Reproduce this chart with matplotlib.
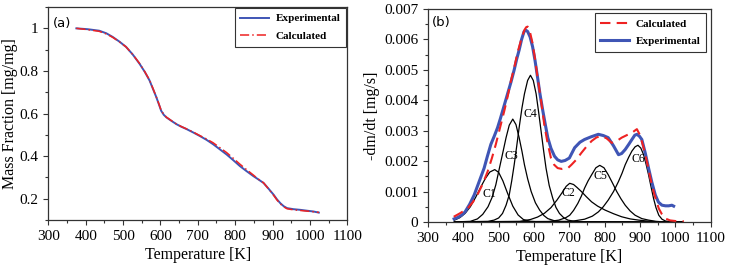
import matplotlib
matplotlib.use("Agg")
import matplotlib.pyplot as plt
from matplotlib.ticker import MultipleLocator, FixedLocator, FixedFormatter

plt.rcParams['font.family'] = ['Liberation Serif', 'DejaVu Serif']

# (a) mass fraction
t_mass = [375, 405, 436, 455, 472, 490, 508, 526, 544, 558, 571, 580, 589, 596, 602, 609,
          616, 630, 643, 656, 670, 688, 705, 723, 741, 759, 777, 795, 813, 831, 849, 862,
          876, 890, 903, 912, 921, 930, 939, 956, 974, 992, 1010, 1024]
mass_exp = [1.0, 0.996, 0.989, 0.977, 0.96, 0.938, 0.913, 0.877, 0.834, 0.796, 0.755, 0.716,
            0.677, 0.643, 0.613, 0.594, 0.582, 0.565, 0.55, 0.538, 0.527, 0.511, 0.495,
            0.477, 0.456, 0.432, 0.408, 0.381, 0.353, 0.329, 0.306, 0.291, 0.274, 0.246,
            0.219, 0.197, 0.179, 0.165, 0.156, 0.151, 0.148, 0.144, 0.140, 0.135]
mass_calc = [1.0, 0.994, 0.986, 0.974, 0.958, 0.937, 0.913, 0.877, 0.836, 0.797, 0.757,
             0.718, 0.678, 0.645, 0.615, 0.596, 0.583, 0.566, 0.551, 0.539, 0.528, 0.513,
             0.497, 0.481, 0.463, 0.440, 0.417, 0.390, 0.362, 0.336, 0.311, 0.292, 0.275,
             0.245, 0.216, 0.194, 0.176, 0.162, 0.153, 0.148, 0.145, 0.142, 0.139, 0.136]

# (b) mass loss rate
t_exp = [374, 385, 395, 405, 418, 431, 445, 459, 468, 478, 488, 497, 505, 515, 525, 535,
         544, 551, 558, 565, 572, 577, 582, 589, 596, 603, 610, 617, 625, 632, 639, 648,
         658, 667, 677, 688, 700, 715, 730, 743, 762, 782, 796, 810, 825, 839, 848, 858,
         868, 877, 885, 891, 898, 905, 915, 924, 933, 943, 952, 962, 972, 981, 990, 995]
rate_exp = [0.0001, 0.00015, 0.00022, 0.00033, 0.00058, 0.00089, 0.00133, 0.00177, 0.00215,
            0.00255, 0.00283, 0.0031, 0.0034, 0.0038, 0.0042, 0.0046, 0.005, 0.00535,
            0.00565, 0.006, 0.00626, 0.0063, 0.00626, 0.00608, 0.00576, 0.0053, 0.00476,
            0.0042, 0.00365, 0.0032, 0.00277, 0.00242, 0.00216, 0.00204, 0.00199, 0.00202,
            0.0021, 0.00244, 0.00262, 0.00271, 0.0028, 0.00288, 0.00284, 0.00277, 0.0025,
            0.00221, 0.00225, 0.00238, 0.00255, 0.00271, 0.00285, 0.00288, 0.00282, 0.00271,
            0.00225, 0.00177, 0.00132, 0.00089, 0.00065, 0.00055, 0.00053, 0.00053, 0.00055,
            0.00052]
t_calc = [373, 390, 412, 427, 440, 455, 469, 481, 492, 504, 516, 526, 535, 545, 554, 564,
          573, 578, 582, 589, 596, 603, 610, 620, 629, 638, 648, 657, 667, 680, 696, 706,
          720, 734, 748, 763, 777, 791, 805, 820, 834, 848, 862, 877, 885, 891, 900, 910,
          920, 929, 940, 953, 962, 972, 985, 1000, 1024]
rate_calc = [0.00017, 0.00028, 0.00044, 0.00065, 0.00089, 0.00125, 0.00166, 0.0021, 0.00255,
             0.0031, 0.00365, 0.00415, 0.00465, 0.00512, 0.00559, 0.006, 0.00631, 0.0064,
             0.00642, 0.00622, 0.00587, 0.00535, 0.00476, 0.00398, 0.00321, 0.00262, 0.0021,
             0.00188, 0.00177, 0.00174, 0.00177, 0.00188, 0.00205, 0.00227, 0.00247, 0.00266,
             0.00278, 0.00282, 0.00275, 0.0026, 0.00266, 0.00277, 0.00285, 0.00293, 0.003,
             0.00305, 0.00285, 0.00244, 0.00195, 0.00144, 0.00092, 0.00044, 0.00025, 0.00011,
             0.00005, 0.00003, 0.00002]

# deconvoluted components
comp_t = {
    'C1': [375, 390, 405, 420, 435, 450, 462, 475, 489, 500, 512, 525, 540, 555, 570, 590,
           620, 1020],
    'C2': [375, 560, 590, 610, 629, 648, 665, 680, 691, 701, 712, 722, 734, 748, 763, 780,
           801, 825, 848, 872, 896, 920, 943, 1020],
    'C3': [375, 420, 440, 455, 470, 482, 492, 500, 510, 521, 530, 540, 549, 558, 566, 573,
           582, 592, 604, 616, 628, 639, 660, 690, 1020],
    'C4': [375, 470, 487, 500, 511, 521, 530, 537, 544, 551, 558, 566, 573, 582, 590, 598,
           606, 613, 620, 627, 634, 643, 653, 662, 672, 684, 696, 720, 1020],
    'C5': [375, 640, 670, 690, 701, 712, 724, 734, 743, 753, 763, 775, 786, 798, 810, 822,
           834, 846, 858, 872, 886, 905, 924, 945, 970, 1020],
    'C6': [375, 706, 743, 765, 782, 796, 810, 825, 839, 849, 858, 868, 877, 886, 894, 902,
           910, 917, 924, 931, 938, 945, 953, 962, 972, 990, 1020],
}
comp_rate = {
    'C1': [0.00006, 0.00014, 0.00028, 0.0005, 0.00081, 0.00116, 0.00142, 0.00164, 0.00172,
           0.00163, 0.00135, 0.00095, 0.00052, 0.00023, 0.00008, 0.00002, 0.0, 0.0],
    'C2': [0.0, 0.00002, 0.00008, 0.00016, 0.00028, 0.00047, 0.00072, 0.00097, 0.00117,
           0.00127, 0.00123, 0.00113, 0.001, 0.00083, 0.00066, 0.00052, 0.00039, 0.00027,
           0.00017, 0.0001, 0.00006, 0.00003, 0.00001, 0.0],
    'C3': [0.0, 0.00002, 0.0001, 0.00025, 0.0005, 0.00082, 0.00122, 0.00165, 0.00218,
           0.00277, 0.00318, 0.00338, 0.0032, 0.00277, 0.00232, 0.00188, 0.00142, 0.001,
           0.00063, 0.00039, 0.00021, 0.00011, 0.00003, 0.0, 0.0],
    'C4': [0.0, 0.00002, 0.00006, 0.00013, 0.00028, 0.00055, 0.00089, 0.00135, 0.00188,
           0.00248, 0.0031, 0.00375, 0.00421, 0.00465, 0.00482, 0.00465, 0.00421, 0.00362,
           0.00299, 0.00236, 0.00177, 0.0012, 0.00078, 0.00048, 0.00028, 0.00014, 0.00006,
           0.00001, 0.0],
    'C5': [0.0, 0.00001, 0.00006, 0.00014, 0.00022, 0.00038, 0.00061, 0.00085, 0.00111,
           0.00135, 0.00155, 0.00178, 0.00186, 0.00178, 0.00155, 0.00128, 0.001, 0.00076,
           0.00055, 0.00036, 0.00022, 0.00011, 0.00006, 0.00002, 0.0, 0.0],
    'C6': [0.0, 0.00002, 0.00009, 0.00019, 0.00033, 0.0005, 0.00072, 0.001, 0.00133, 0.0016,
           0.00188, 0.00213, 0.00233, 0.00247, 0.00252, 0.00243, 0.00221, 0.0019, 0.00155,
           0.00116, 0.00078, 0.00047, 0.00022, 0.00009, 0.00003, 0.0, 0.0],
}
comp_label_pos = {'C1': (473, 0.00091), 'C2': (698, 0.00094), 'C3': (535, 0.00216),
                  'C4': (590, 0.00354), 'C5': (789, 0.0015), 'C6': (895, 0.00208)}

x_ticks = [300, 400, 500, 600, 700, 800, 900, 1000, 1100]
a_yticks = [0.2, 0.4, 0.6, 0.8, 1.0]
a_ylabels = ['0.2', '0.4', '0.6', '0.8', '1']
b_yticks = [0, 0.001, 0.002, 0.003, 0.004, 0.005, 0.006, 0.007]
b_ylabels = ['0', '0.001', '0.002', '0.003', '0.004', '0.005', '0.006', '0.007']

blue = '#3f55b5'
red = '#ee2222'

fig = plt.figure(figsize=(7.29, 2.71), dpi=100)
ax1 = fig.add_axes([0.0663, 0.188, 0.410, 0.786])
ax2 = fig.add_axes([0.587, 0.181, 0.388, 0.786])


def style_axis(ax):
    ax.set_xlim(300, 1100)
    ax.xaxis.set_major_locator(FixedLocator(x_ticks))
    ax.xaxis.set_minor_locator(MultipleLocator(50))
    ax.tick_params(which='both', direction='out', top=False, right=False,
                   labelsize=11, width=0.8, color='#333333')
    ax.tick_params(which='major', length=3.5)
    ax.tick_params(which='minor', length=2)
    for s in ax.spines.values():
        s.set_linewidth(0.9)
        s.set_color('#333333')
    ax.set_xlabel('Temperature [K]', fontsize=11.5, labelpad=3)


# panel (a)
ax1.plot(t_mass, mass_exp, color=blue, lw=1.4, label='Experimental')
ax1.plot(t_mass, mass_calc, color=red, lw=1.1, ls=(0, (6, 2, 1, 2)), label='Calculated')
style_axis(ax1)
ax1.set_ylim(0.1, 1.1)
ax1.yaxis.set_major_locator(FixedLocator(a_yticks))
ax1.yaxis.set_major_formatter(FixedFormatter(a_ylabels))
ax1.yaxis.set_minor_locator(MultipleLocator(0.1))
ax1.set_ylabel('Mass Fraction [mg/mg]', fontsize=11.5, labelpad=1)
ax1.text(0.015, 0.955, '(a)', transform=ax1.transAxes, family='DejaVu Sans',
         fontsize=9.5, va='top', ha='left')
leg1 = ax1.legend(loc='upper right', fancybox=False, edgecolor='#333333', framealpha=1,
                  prop={'size': 8, 'weight': 'bold'}, borderaxespad=0.1,
                  handlelength=2.6, handletextpad=0.6, labelspacing=0.7, borderpad=0.5)
leg1.get_frame().set_linewidth(0.8)

# panel (b)
for name in ['C1', 'C2', 'C3', 'C4', 'C5', 'C6']:
    ax2.plot(comp_t[name], comp_rate[name], color='black', lw=0.9)
    lx, ly = comp_label_pos[name]
    ax2.text(lx, ly, name, fontsize=8.5, ha='center', va='center')
ax2.plot(t_exp, rate_exp, color=blue, lw=2.2, label='Experimental')
ax2.plot(t_calc, rate_calc, color=red, lw=1.5, ls=(0, (5, 3)), label='Calculated')
style_axis(ax2)
ax2.set_ylim(0, 0.007)
ax2.yaxis.set_major_locator(FixedLocator(b_yticks))
ax2.yaxis.set_major_formatter(FixedFormatter(b_ylabels))
ax2.yaxis.set_minor_locator(MultipleLocator(0.0005))
ax2.set_ylabel('-dm/dt [mg/s]', fontsize=11.5, labelpad=3)
ax2.text(0.015, 0.965, '(b)', transform=ax2.transAxes, family='DejaVu Sans',
         fontsize=9.5, va='top', ha='left')
h, l = ax2.get_legend_handles_labels()
leg2 = ax2.legend(h[::-1], l[::-1], loc='upper right', fancybox=False, edgecolor='#333333',
                  framealpha=1, prop={'size': 8, 'weight': 'bold'}, borderaxespad=0.4,
                  handlelength=2.6, handletextpad=0.6, labelspacing=0.7, borderpad=0.5)
leg2.get_frame().set_linewidth(0.8)

fig.savefig('out.png', dpi=100)
